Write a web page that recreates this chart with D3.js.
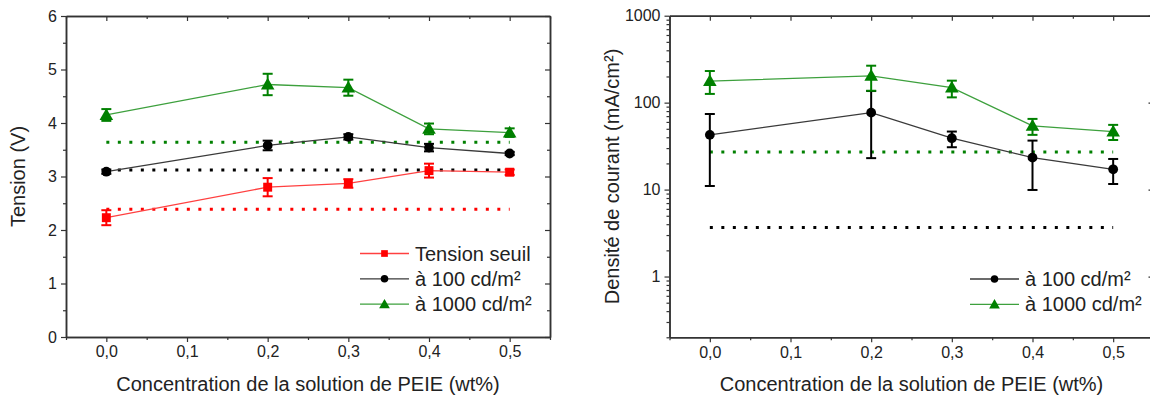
<!DOCTYPE html>
<html>
<head>
<meta charset="utf-8">
<script src="https://cdn.jsdelivr.net/npm/d3@7"></script>
<style>
  html, body { margin: 0; padding: 0; background: #fff; }
  svg { display: block; }
  text { font-family: "Liberation Sans", Arial, sans-serif; fill: #222; }
</style>
</head>
<body>
<svg id="chart" width="1150" height="398"></svg>
<script>
// ---------- DATA ----------
const concentrations = [0.0, 0.2, 0.3, 0.4, 0.5];
const xTickValues = [0, 0.1, 0.2, 0.3, 0.4, 0.5];
const xTickLabels = ["0,0", "0,1", "0,2", "0,3", "0,4", "0,5"];
const xMinorTicks = [-0.05, 0.05, 0.15, 0.25, 0.35, 0.45, 0.55];

// Left panel : Tension (V)
const tensionSeuil      = [2.23, 2.80, 2.87, 3.11, 3.08];
const tensionSeuilErr   = [0.14, 0.17, 0.08, 0.13, 0.05];
const tension100        = [3.09, 3.58, 3.74, 3.54, 3.43];
const tension100Err     = [0.04, 0.09, 0.05, 0.07, 0.03];
const tension1000       = [4.15, 4.72, 4.66, 3.89, 3.82];
const tension1000Err    = [0.11, 0.20, 0.15, 0.10, 0.08];
const refTension        = [2.39, 3.12, 3.64]; // seuil, 100, 1000 (dotted references)
const yTensionTicks     = [0, 1, 2, 3, 4, 5, 6];
const yTensionMinor     = [0.5, 1.5, 2.5, 3.5, 4.5, 5.5];

// Right panel : Densité de courant (mA/cm²)
const courant100        = [42.6, 76.7, 39.0, 23.3, 17.1];
const courant100Low     = [11.0, 23.0, 30.7, 9.9, 11.6];
const courant100High    = [74.0, 136, 46.5, 36.6, 22.5];
const courant1000       = [177, 203, 149, 54, 46.5];
const courant1000Low    = [126, 137, 115, 42.6, 37.2];
const courant1000High   = [231, 266, 179, 65, 55.5];
const refCourant        = [3.66, 27]; // 100, 1000 (dotted references)
const yCourantTicks     = [1, 10, 100, 1000];
const yCourantTickLabels = ["1", "10", "100", "1000"];
const yCourantMinor     = [0.2,0.3,0.4,0.5,0.6,0.7,0.8,0.9,2,3,4,5,6,7,8,9,20,30,40,50,60,70,80,90,200,300,400,500,600,700,800,900];

const legendLeft  = ["Tension seuil", "à 100 cd/m²", "à 1000 cd/m²"];
const legendRight = ["à 100 cd/m²", "à 1000 cd/m²"];
const xTitle = "Concentration de la solution de PEIE (wt%)";
const yTitleLeft = "Tension (V)";
const yTitleRight = "Densité de courant (mA/cm²)";

// ---------- STYLE ----------
const COL = {
  red:   {marker: "#ff0000", line: "#ff4040"},
  black: {marker: "#000000", line: "#3a3a3a"},
  green: {marker: "#008000", line: "#3da03d"}
};
const AXIS_COL = "#333";
const svg = d3.select("#chart");

function symbolPath(kind, size) {
  const t = kind === "square" ? d3.symbolSquare : kind === "circle" ? d3.symbolCircle : d3.symbolTriangle;
  return d3.symbol().type(t).size(size)();
}

function drawFrame(g, x, y, opts) {
  const [x0, x1] = x.range();
  const [y0, y1] = y.range();
  const fmtX = (d) => xTickLabels[xTickValues.indexOf(d)];
  const bottom = g.append("g").attr("transform", `translate(0,${y0})`)
    .call(d3.axisBottom(x).tickValues(xTickValues).tickFormat(fmtX).tickSize(5).tickSizeOuter(0).tickPadding(4));
  bottom.selectAll("text").style("font-size", "16px");
  g.append("g").attr("transform", `translate(0,${y0})`)
    .call(d3.axisBottom(x).tickValues(xMinorTicks).tickFormat("").tickSize(3).tickSizeOuter(0));
  g.append("g").attr("transform", `translate(0,${y1})`)
    .call(d3.axisBottom(x).tickValues(xTickValues).tickFormat("").tickSize(5).tickSizeOuter(0));
  g.append("g").attr("transform", `translate(0,${y1})`)
    .call(d3.axisBottom(x).tickValues(xMinorTicks).tickFormat("").tickSize(3).tickSizeOuter(0));
  const left = g.append("g").attr("transform", `translate(${x0},0)`)
    .call(d3.axisLeft(y).tickValues(opts.yTicks).tickFormat(opts.yFormat).tickSize(5).tickSizeOuter(0).tickPadding(4));
  left.selectAll("text").style("font-size", "16px");
  g.append("g").attr("transform", `translate(${x0},0)`)
    .call(d3.axisLeft(y).tickValues(opts.yMinor).tickFormat("").tickSize(3).tickSizeOuter(0));
  g.append("g").attr("transform", `translate(${x1},0)`)
    .call(d3.axisLeft(y).tickValues(opts.yTicks).tickFormat("").tickSize(5).tickSizeOuter(0));
  g.append("g").attr("transform", `translate(${x1},0)`)
    .call(d3.axisLeft(y).tickValues(opts.yMinor).tickFormat("").tickSize(3).tickSizeOuter(0));
  g.selectAll(".domain").attr("stroke", AXIS_COL).attr("stroke-width", 1.5);
  g.selectAll(".tick line").attr("stroke", AXIS_COL).attr("stroke-width", 1.2);
  g.selectAll(".tick text").attr("fill", "#222");
}

function drawSeries(g, x, y, vals, lows, highs, col, kind, size) {
  const pts = concentrations.map((c, i) => ({x: c, v: vals[i], lo: lows[i], hi: highs[i]}));
  g.append("path").datum(pts)
    .attr("fill", "none").attr("stroke", col.line).attr("stroke-width", 1.3)
    .attr("d", d3.line().x(d => x(d.x)).y(d => y(d.v)));
  const eb = g.append("g").attr("stroke", col.marker).attr("stroke-width", 2);
  pts.forEach(d => {
    const cx = x(d.x);
    eb.append("line").attr("x1", cx).attr("x2", cx).attr("y1", y(d.lo)).attr("y2", y(d.hi));
    eb.append("line").attr("x1", cx - 5).attr("x2", cx + 5).attr("y1", y(d.lo)).attr("y2", y(d.lo));
    eb.append("line").attr("x1", cx - 5).attr("x2", cx + 5).attr("y1", y(d.hi)).attr("y2", y(d.hi));
  });
  g.append("g").selectAll("path").data(pts).join("path")
    .attr("transform", d => `translate(${x(d.x)},${y(d.v) + (kind === "triangle" ? 1 : 0)})`)
    .attr("d", symbolPath(kind, size)).attr("fill", col.marker);
}

function drawRef(g, x, y, v, col) {
  g.append("line")
    .attr("x1", x(0)).attr("x2", x(0.5)).attr("y1", y(v)).attr("y2", y(v))
    .attr("stroke", col).attr("stroke-width", 3).attr("stroke-dasharray", "3,8.5");
}

function drawLegend(g, entries, x0, yStart, dy) {
  entries.forEach((e, i) => {
    const yy = yStart + i * dy;
    g.append("line").attr("x1", x0).attr("x2", x0 + 49).attr("y1", yy).attr("y2", yy)
      .attr("stroke", e.col.line).attr("stroke-width", 1.3);
    g.append("path").attr("transform", `translate(${x0 + 24.5},${yy + (e.kind === "triangle" ? 1 : 0)})`)
      .attr("d", symbolPath(e.kind, e.size)).attr("fill", e.col.marker);
    g.append("text").attr("x", x0 + 55).attr("y", yy).attr("dy", "0.35em")
      .style("font-size", "20px").text(e.label);
  });
}

// ---------- LEFT PANEL ----------
{
  const x = d3.scaleLinear().domain([-0.05, 0.55]).range([66, 550]);
  const y = d3.scaleLinear().domain([0, 6]).range([337, 16]);
  const g = svg.append("g");
  drawFrame(g, x, y, {yTicks: yTensionTicks, yMinor: yTensionMinor, yFormat: d3.format("d")});
  drawRef(g, x, y, refTension[2], COL.green.marker);
  drawRef(g, x, y, refTension[1], COL.black.marker);
  drawRef(g, x, y, refTension[0], COL.red.marker);
  const lo = (v, e) => v.map((d, i) => d - e[i]);
  const hi = (v, e) => v.map((d, i) => d + e[i]);
  drawSeries(g, x, y, tensionSeuil, lo(tensionSeuil, tensionSeuilErr), hi(tensionSeuil, tensionSeuilErr), COL.red, "square", 80);
  drawSeries(g, x, y, tension100, lo(tension100, tension100Err), hi(tension100, tension100Err), COL.black, "circle", 75);
  drawSeries(g, x, y, tension1000, lo(tension1000, tension1000Err), hi(tension1000, tension1000Err), COL.green, "triangle", 80);
  drawLegend(g, [
    {label: legendLeft[0], col: COL.red, kind: "square", size: 45},
    {label: legendLeft[1], col: COL.black, kind: "circle", size: 45},
    {label: legendLeft[2], col: COL.green, kind: "triangle", size: 50}
  ], 360, 253.5, 25.3);
  g.append("text").attr("x", (66 + 550) / 2).attr("y", 391).attr("text-anchor", "middle")
    .style("font-size", "20px").text(xTitle);
  g.append("text").attr("transform", `translate(25,${(16 + 337) / 2}) rotate(-90)`).attr("text-anchor", "middle")
    .style("font-size", "20px").text(yTitleLeft);
}

// ---------- RIGHT PANEL ----------
{
  const x = d3.scaleLinear().domain([-0.05, 0.55]).range([669.5, 1153.5]);
  const y = d3.scaleLog().domain([0.2, 1000]).range([337.3, 15.7]);
  const g = svg.append("g");
  drawFrame(g, x, y, {yTicks: yCourantTicks, yMinor: yCourantMinor,
    yFormat: d => yCourantTickLabels[yCourantTicks.indexOf(d)]});
  drawRef(g, x, y, refCourant[1], COL.green.marker);
  drawRef(g, x, y, refCourant[0], COL.black.marker);
  drawSeries(g, x, y, courant100, courant100Low, courant100High, COL.black, "circle", 75);
  drawSeries(g, x, y, courant1000, courant1000Low, courant1000High, COL.green, "triangle", 80);
  drawLegend(g, [
    {label: legendRight[0], col: COL.black, kind: "circle", size: 45},
    {label: legendRight[1], col: COL.green, kind: "triangle", size: 50}
  ], 970, 279, 25.3);
  g.append("text").attr("x", (669.5 + 1153.5) / 2).attr("y", 391).attr("text-anchor", "middle")
    .style("font-size", "20px").text(xTitle);
  g.append("text").attr("transform", `translate(619,${(16 + 337) / 2}) rotate(-90)`).attr("text-anchor", "middle")
    .style("font-size", "20px").text(yTitleRight);
}
</script>
</body>
</html>
